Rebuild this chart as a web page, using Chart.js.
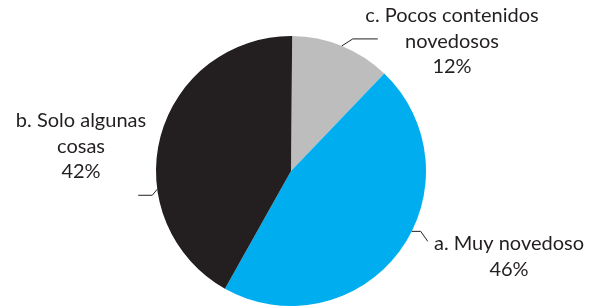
<!DOCTYPE html>
<html><head><meta charset="utf-8">
<script src="https://cdn.jsdelivr.net/npm/chart.js@4/dist/chart.umd.min.js"></script>
<style>html,body{margin:0;padding:0;background:#fff;}#wrap{width:596px;height:308px;position:relative;}</style>
</head><body>
<div id="wrap"><canvas id="c" width="596" height="308"></canvas></div>
<script>
const categories = ["c. Pocos contenidos novedosos", "a. Muy novedoso", "b. Solo algunas cosas"];
const values = [12, 46, 42];
const colors = ["#bdbdbd", "#00aeef", "#231f20"];
const labelLines = [["c. Pocos contenidos", "novedosos", "12%"], ["a. Muy novedoso", "46%"], ["b. Solo algunas", "cosas", "42%"]];

// label layout (style): anchor fraction along slice, leader elbow/end offsets, text center, baselines
const labelLayout = [
  {frac: 0.5, elbow: [11, -7], end: [36, -7], x: 452, y: 22},
  {frac: 0.44, elbow: [9, 0], end: [16, 10], x: 509, y: 250},
  {frac: 0.35, elbow: [-5, 6], end: [-19, 6], x: 81, y: 127}
];

const labelPlugin = {
  id: 'pieLabels',
  afterDraw(chart) {
    const ctx = chart.ctx;
    const meta = chart.getDatasetMeta(0);
    ctx.save();
    meta.data.forEach((arc, i) => {
      const L = labelLayout[i];
      const a = arc.startAngle + (arc.endAngle - arc.startAngle) * L.frac;
      const px = arc.x + Math.cos(a) * arc.outerRadius;
      const py = arc.y + Math.sin(a) * arc.outerRadius;
      ctx.strokeStyle = '#231f20';
      ctx.lineWidth = 1;
      ctx.beginPath();
      ctx.moveTo(px, py);
      ctx.lineTo(px + L.elbow[0], py + L.elbow[1]);
      ctx.lineTo(px + L.end[0], py + L.end[1]);
      ctx.stroke();
      ctx.fillStyle = '#231f20';
      ctx.font = '20px Lato, "Open Sans", sans-serif';
      ctx.textAlign = 'center';
      ctx.textBaseline = 'alphabetic';
      labelLines[i].forEach((t, j) => ctx.fillText(t, L.x, L.y + j * 25.5));
    });
    ctx.restore();
  }
};

new Chart(document.getElementById('c'), {
  type: 'pie',
  data: {labels: categories, datasets: [{data: values, backgroundColor: colors, borderWidth: 0}]},
  options: {
    responsive: false, animation: false, rotation: 0.5,
    layout: {padding: {left: 156, right: 170, top: 36, bottom: 2}},
    plugins: {legend: {display: false}, tooltip: {enabled: false}}
  },
  plugins: [labelPlugin]
});
</script>
</body></html>
